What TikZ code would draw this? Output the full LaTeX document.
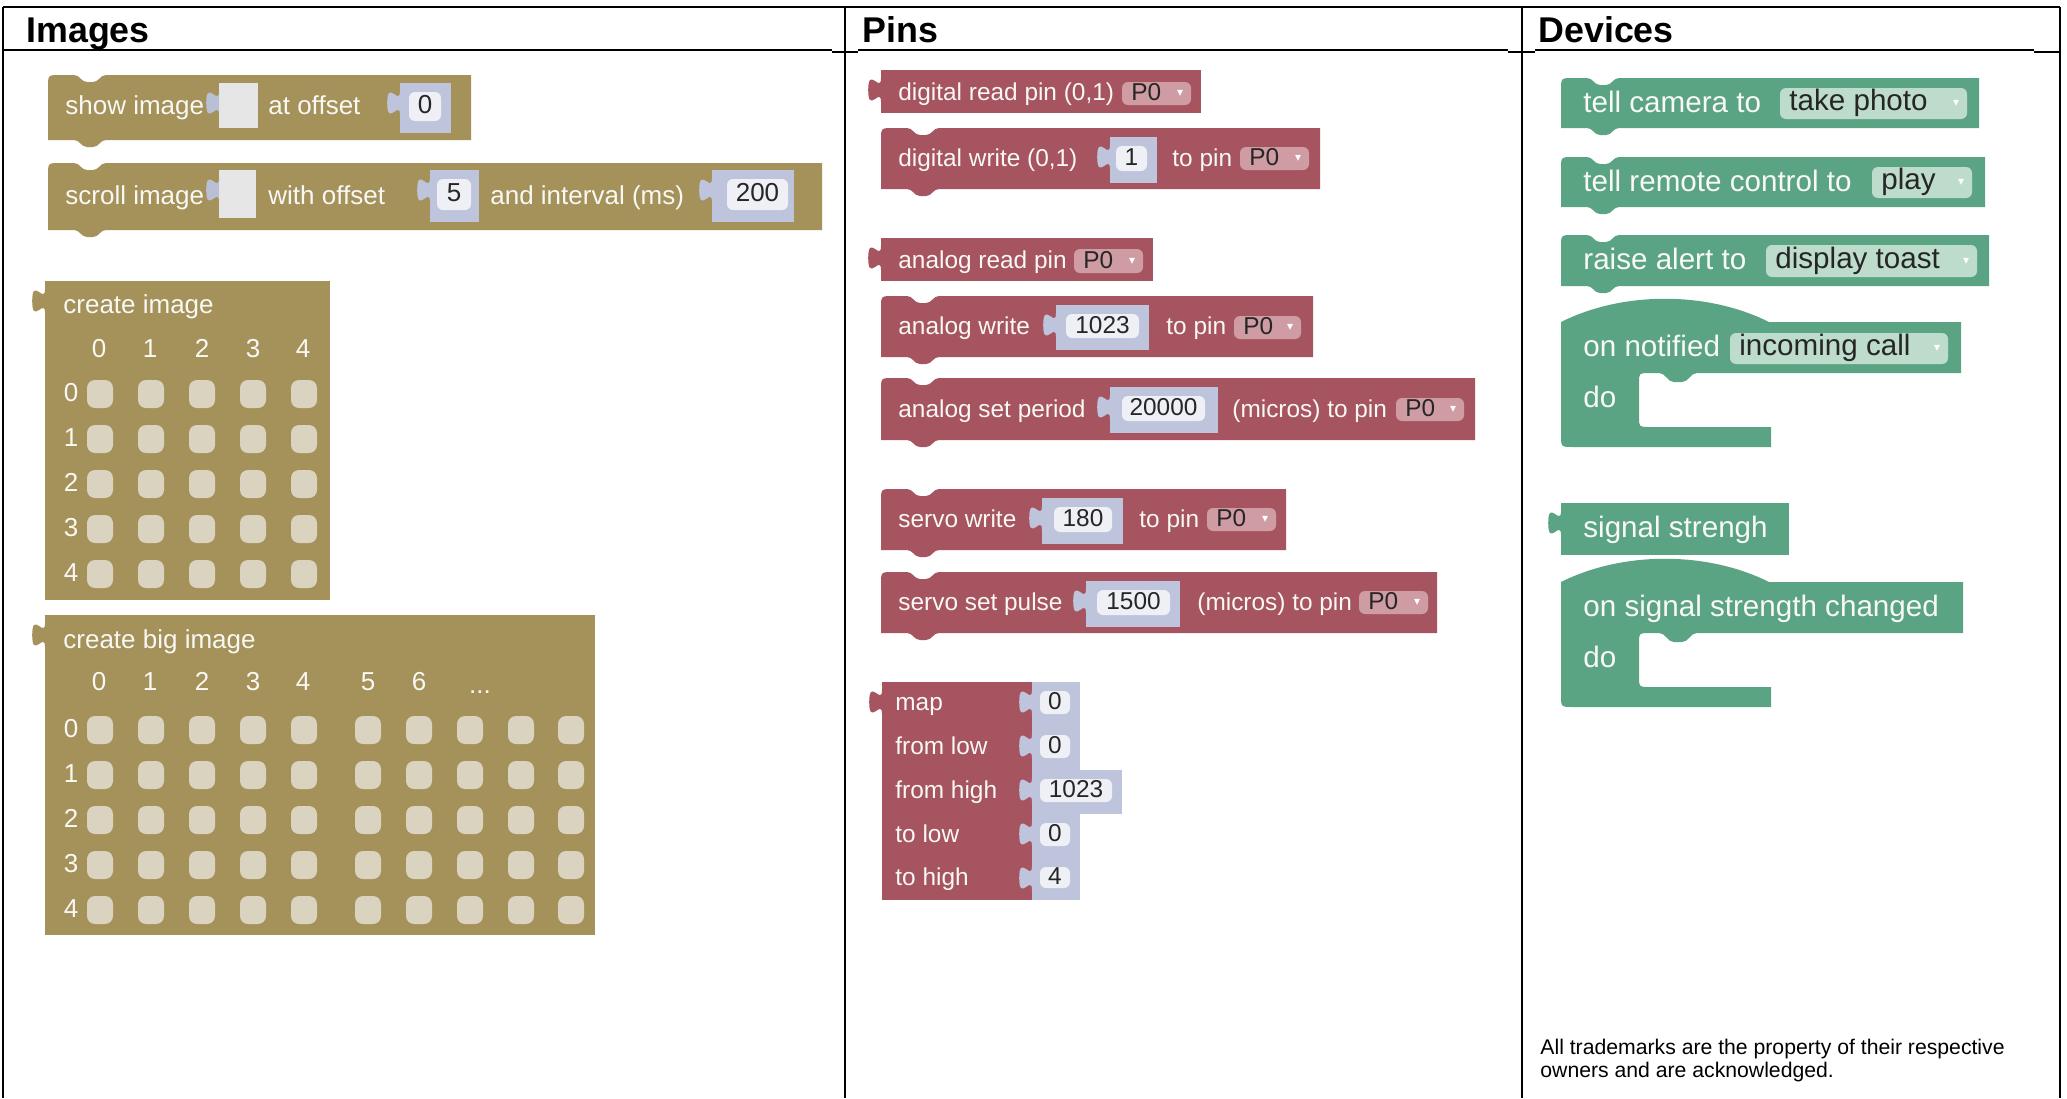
\documentclass[tikz,border=0pt]{standalone}
\usepackage{fontspec}
\setmainfont{Liberation Sans}
\newfontfamily\symf{DejaVu Sans}
\definecolor{imgc}{HTML}{A5915A}
\definecolor{cellc}{HTML}{D9D3BF}
\definecolor{pinc}{HTML}{A65460}
\definecolor{pind}{HTML}{CF9CA3}
\definecolor{numc}{HTML}{BDC4DB}
\definecolor{numf}{HTML}{EEF0F6}
\definecolor{slotc}{HTML}{E6E6E6}
\definecolor{slott}{HTML}{B9C0D6}
\definecolor{devc}{HTML}{5BA483}
\definecolor{devd}{HTML}{BEDCCB}
\definecolor{wtxt}{HTML}{F8F8F4}
\tikzset{
 tb/.style={line width=1.2pt},
 wt/.style={anchor=west, inner sep=0pt, text=wtxt, text height=1.4ex, text depth=0pt},
 ct/.style={anchor=center, inner sep=0pt, text=wtxt, text height=1.4ex, text depth=0pt},
 nt/.style={anchor=center, inner sep=0pt, text=black!85, text height=1.4ex, text depth=0pt},
 dt/.style={anchor=west, inner sep=0pt, text=black!85, text height=1.4ex, text depth=0pt},
 arr/.style={anchor=center, inner sep=0pt, text=white, font=\symf\fontsize{6}{6}\selectfont},
 hd/.style={anchor=base west, inner sep=0pt, font=\bfseries\fontsize{17.9}{20}\selectfont},
 ft/.style={anchor=base west, inner sep=0pt, font=\fontsize{10.6}{12}\selectfont},
 fImg/.style={font=\fontsize{13}{15}\selectfont},
 fPin/.style={font=\fontsize{12.2}{14}\selectfont},
 fDev/.style={font=\fontsize{14.8}{17}\selectfont},
}
% statement block: x0 y0 x1 y1 colour
\newcommand\StmtB[5]{\fill[#5] (#1,#4) -- (#1,#2+12) .. controls (#1,#2) .. (#1+12,#2) -- (#1+26,#2) .. controls (#1+32,#2) and (#1+33,#2+7) .. (#1+39,#2+7) -- (#1+45,#2+7) .. controls (#1+51,#2+7) and (#1+52,#2) .. (#1+58,#2) -- (#3,#2) -- (#3,#4) -- (#1+58,#4) .. controls (#1+52,#4) and (#1+51,#4+7) .. (#1+45,#4+7) -- (#1+39,#4+7) .. controls (#1+33,#4+7) and (#1+32,#4) .. (#1+26,#4) -- cycle;}
% output tab at left edge x, top y
\newcommand\OutTab[3]{\fill[#3] (#1,#2+8) .. controls (#1,#2+24) and (#1-12.8,#2-4.8) .. (#1-12.8,#2+20) .. controls (#1-12.8,#2+44.8) and (#1,#2+16) .. (#1,#2+32) -- cycle;}
% value block
\newcommand\ValB[5]{\fill[#5] (#1,#2) rectangle (#3,#4); \OutTab{#1}{#2}{#5}}
% empty slot
\newcommand\SlotB[4]{\fill[slotc] (#1,#2) rectangle (#3,#4); \OutTab{#1}{#2}{slott}}
% number block: name x0 y0 x1 y1 fx0 fx1 text
\newcommand\NumB[8]{\fill[numc] (#2,#3) rectangle (#4,#5); \OutTab{#2}{#3}{numc}
 \fill[numf, rounded corners=3pt] (#6,#3+9) rectangle (#7,#5-12);
 \node[nt] (#1) at ({(#6+#7)/2},{(#3+#5-3)/2}) {#8};}
% dropdown: name x0 y0 x1 y1 text fill
\newcommand\DropB[7]{\fill[#7, rounded corners=3pt] (#2,#3) rectangle (#4,#5);
 \node[dt] (#1-t) at (#2+9,{(#3+#5)/2}) {#6};
 \node[arr] (#1-a) at (#4-11,{(#3+#5)/2}) {▾};}
% event block: top right rowBottom slotBottom bottom colour
\newcommand\EvtB[6]{\fill[#6] (1561,#1) .. controls (1623,#1-31) and (1707,#1-31) .. (1769,#1) -- (#2,#1) -- (#2,#3) -- (1697,#3) .. controls (1690,#3) and (1689,#3+9) .. (1682,#3+9) -- (1674,#3+9) .. controls (1667,#3+9) and (1666,#3) .. (1659,#3) -- (1649,#3) .. controls (1639,#3) .. (1639,#3+10) -- (1639,#4-10) .. controls (1639,#4) .. (1649,#4) -- (1771,#4) -- (1771,#5) -- (1573,#5) .. controls (1561,#5) .. (1561,#5-12) -- cycle;}
\begin{document}
\begin{tikzpicture}[x=0.5pt,y=-0.5pt]
\useasboundingbox (0,0) rectangle (2067,1098);
\fill[white] (0,0) rectangle (2067,1098);
% table
\draw[tb] (3,7) -- (2060,7);
\draw[tb] (3,7) -- (3,1098);
\draw[tb] (845,7) -- (845,1098);
\draw[tb] (1522,7) -- (1522,1098);
\draw[tb] (2060,7) -- (2060,1098);
\draw[tb] (3,50) -- (832,50);
\draw[tb] (832,52) -- (858,52);
\draw[tb] (858,50) -- (1508,50);
\draw[tb] (1508,52) -- (1535,52);
\draw[tb] (1535,50) -- (2034,50);
\draw[tb] (2034,52) -- (2060,52);
\node[hd] (h1) at (26,42) {Images};
\node[hd] (h2) at (862,42) {Pins};
\node[hd] (h3) at (1538,42) {Devices};
% ---------------- Images
\begin{scope}[every node/.append style={fImg}]
\StmtB{48}{75}{471}{140}{imgc}
\node[wt] (si) at (65,107) {show image};
\SlotB{219}{83}{258}{128}
\node[wt] (sio) at (268,107) {at offset};
\NumB{ni1}{400}{83}{451}{133}{409}{441}{0}
\StmtB{48}{163}{822}{230}{imgc}
\node[wt] (sc) at (65,197) {scroll image};
\SlotB{219}{170}{256}{218}
\node[wt] (sco) at (268,197) {with offset};
\NumB{ni2}{430}{170}{479}{222}{437}{471}{5}
\node[wt] (sci) at (490,197) {and interval (ms)};
\NumB{ni3}{712}{170}{794}{222}{727}{788}{200}
% create image
\ValB{45}{281}{330}{600}{imgc}
\node[wt] (ci) at (63,306) {create image};
\foreach \cx [count=\i from 0] in {99,150,202,253,303} {
  \node[ct] (ch\i) at (\cx,350) {\i};
  \node[ct] (rh\i) at (71,394+45*\i) {\i};
}
\foreach \cx in {87,138,189,240,291} \foreach \cy in {380,425,470,515,560}
  \fill[cellc, rounded corners=4pt] (\cx,\cy) rectangle +(26,28);
% create big image
\ValB{45}{615}{595}{935}{imgc}
\node[wt] (cbi) at (63,641) {create big image};
\foreach \cx [count=\i from 0] in {99,150,202,253,303,368,419} {
  \node[ct] (bch\i) at (\cx,683) {\i};
}
\node[anchor=base, inner sep=0pt, text=wtxt] (bdots) at (480,693) {...};
\foreach \i in {0,...,4} {
  \node[ct] (brh\i) at (71,730+45*\i) {\i};
}
\foreach \cx in {87,138,189,240,291,355,406,457,508,558} \foreach \cy in {716,761,806,851,896}
  \fill[cellc, rounded corners=4pt] (\cx,\cy) rectangle +(26,28);
\end{scope}
% ---------------- Pins
\begin{scope}[every node/.append style={fPin}]
\ValB{881}{70}{1201}{113}{pinc}
\node[wt] (dr) at (898,93) {digital read pin (0,1)};
\DropB{dd1}{1122}{82}{1191}{105}{P0}{pind}
\StmtB{881}{128}{1320}{189}{pinc}
\node[wt] (dw) at (898,159) {digital write (0,1)};
\NumB{n1}{1110}{137}{1157}{183}{1116}{1147}{1}
\node[wt] (dwp) at (1172,159) {to pin};
\DropB{dd2}{1240}{147}{1309}{170}{P0}{pind}
\ValB{881}{238}{1153}{281}{pinc}
\node[wt] (ar) at (898,261) {analog read pin};
\DropB{dd3}{1074}{249}{1143}{273}{P0}{pind}
\StmtB{881}{296}{1313}{357}{pinc}
\node[wt] (aw) at (898,327) {analog write};
\NumB{n2}{1056}{305}{1149}{350}{1066}{1139}{1023}
\node[wt] (awp) at (1166,327) {to pin};
\DropB{dd4}{1234}{316}{1301}{339}{P0}{pind}
\StmtB{881}{378}{1475}{440}{pinc}
\node[wt] (asp) at (898,410) {analog set period};
\NumB{n3}{1110}{387}{1218}{433}{1122}{1205}{20000}
\node[wt] (aspp) at (1232,410) {(micros) to pin};
\DropB{dd5}{1396}{398}{1464}{421}{P0}{pind}
\StmtB{881}{489}{1286}{550}{pinc}
\node[wt] (sw) at (898,520) {servo write};
\NumB{n4}{1042}{498}{1123}{544}{1054}{1112}{180}
\node[wt] (swp) at (1139,520) {to pin};
\DropB{dd6}{1207}{508}{1276}{531}{P0}{pind}
\StmtB{881}{572}{1437}{633}{pinc}
\node[wt] (ssp) at (898,603) {servo set pulse};
\NumB{n5}{1086}{581}{1180}{627}{1097}{1170}{1500}
\node[wt] (sspp) at (1197,603) {(micros) to pin};
\DropB{dd7}{1359}{591}{1428}{614}{P0}{pind}
% map
\ValB{882}{682}{1032}{900}{pinc}
\NumB{m1}{1032}{682}{1080}{726}{1040}{1070}{0}
\NumB{m2}{1032}{726}{1080}{770}{1040}{1070}{0}
\NumB{m3}{1032}{770}{1122}{814}{1040}{1112}{1023}
\NumB{m4}{1032}{814}{1080}{858}{1040}{1070}{0}
\NumB{m5}{1032}{858}{1080}{900}{1040}{1070}{4}
\node[wt] (mp1) at (895,703) {map};
\node[wt] (mp2) at (895,747) {from low};
\node[wt] (mp3) at (895,791) {from high};
\node[wt] (mp4) at (895,835) {to low};
\node[wt] (mp5) at (895,878) {to high};
\end{scope}
% ---------------- Devices
\begin{scope}[every node/.append style={fDev}]
\StmtB{1561}{78}{1979}{128}{devc}
\node[wt] (tc) at (1583,105) {tell camera to};
\DropB{dd8}{1780}{88}{1967}{119}{take photo}{devd}
\StmtB{1561}{157}{1985}{207}{devc}
\node[wt] (trc) at (1583,184) {tell remote control to};
\DropB{dd9}{1872}{167}{1972}{198}{play}{devd}
\StmtB{1561}{235}{1989}{286}{devc}
\node[wt] (ra) at (1583,262) {raise alert to};
\DropB{dd10}{1766}{245}{1977}{277}{display toast}{devd}
\EvtB{322}{1961}{373}{427}{447}{devc}
\node[wt] (on) at (1583,349) {on notified};
\DropB{dd11}{1730}{333}{1948}{364}{incoming call}{devd}
\node[wt] (ondo) at (1583,400) {do};
\ValB{1561}{503}{1789}{555}{devc}
\node[wt] (ss) at (1583,530) {signal strengh};
\EvtB{582}{1963}{633}{687}{707}{devc}
\node[wt] (ossc) at (1583,609) {on signal strength changed};
\node[wt] (osscdo) at (1583,660) {do};
\end{scope}
\node[ft] (fn1) at (1540,1054) {All trademarks are the property of their respective};
\node[ft] (fn2) at (1540,1077) {owners and are acknowledged.};
\end{tikzpicture}
\end{document}
